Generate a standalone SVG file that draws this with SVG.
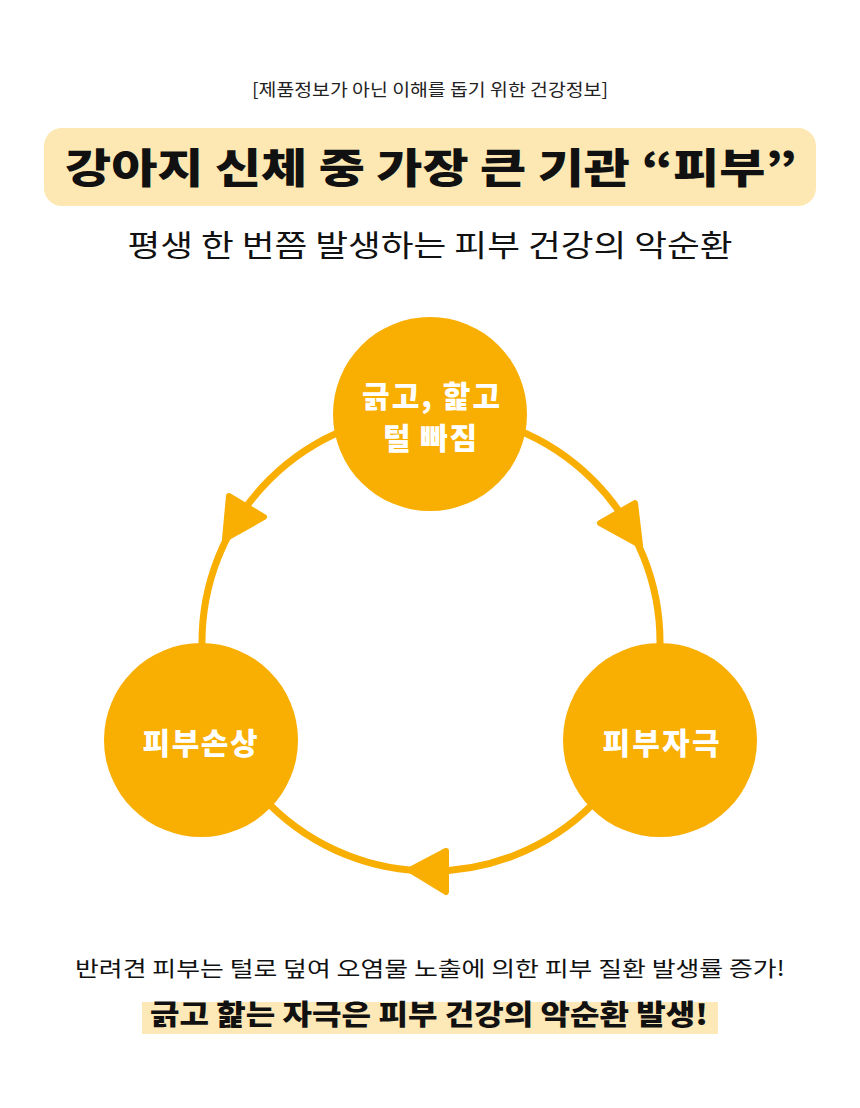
<svg xmlns="http://www.w3.org/2000/svg" width="860" height="1108" viewBox="0 0 860 1108">
<style>
.kr{font-family:"Noto Sans CJK KR","Noto Sans",sans-serif;}
.note{font-size:17px;fill:#222;}
.title{font-size:41px;font-weight:900;fill:#111;}
.sub{font-size:30px;fill:#111;}
.node{fill:#F9AE02;}
.ntext{font-size:30px;font-weight:900;fill:#fff;}
.ring{fill:none;stroke:#F9AE02;stroke-width:7;}
.arrow{fill:#F9AE02;stroke:#F9AE02;stroke-width:6;stroke-linejoin:round;}
.body{font-size:21px;fill:#111;}
.em{font-size:28px;font-weight:900;fill:#111;}
</style>
<rect width="860" height="1108" fill="#fff"/>
<g id="header">
<text class="kr note" x="430" y="96" text-anchor="middle" textLength="356" lengthAdjust="spacingAndGlyphs">[제품정보가 아닌 이해를 돕기 위한 건강정보]</text>
<rect x="44" y="128" width="772" height="78" rx="18" fill="#FDE8B3"/>
<text class="kr title" x="431" y="183" text-anchor="middle" textLength="732" lengthAdjust="spacingAndGlyphs">강아지 신체 중 가장 큰 기관 “피부”</text>
<text class="kr sub" x="430" y="256" text-anchor="middle" textLength="605" lengthAdjust="spacingAndGlyphs">평생 한 번쯤 발생하는 피부 건강의 악순환</text>
</g>
<g id="connectors">
<circle class="ring" cx="431" cy="642" r="229"/>
<polygon class="arrow" points="229,496 264,517 225,539"/>
<polygon class="arrow" points="635,503 600,523 640,545"/>
<polygon class="arrow" points="446,851 410,870 446,892"/>
</g>
<g id="node-top">
<circle class="node" cx="430" cy="414" r="97"/>
<text class="kr ntext" x="431" y="407" text-anchor="middle" textLength="138" lengthAdjust="spacing">긁고, 핥고</text>
<text class="kr ntext" x="430" y="449" text-anchor="middle" textLength="94" lengthAdjust="spacing">털 빠짐</text>
</g>
<g id="node-left">
<circle class="node" cx="201" cy="740" r="97"/>
<text class="kr ntext" x="200" y="754" text-anchor="middle" textLength="115" lengthAdjust="spacing">피부손상</text>
</g>
<g id="node-right">
<circle class="node" cx="660" cy="740" r="97"/>
<text class="kr ntext" x="661" y="754" text-anchor="middle" textLength="117" lengthAdjust="spacing">피부자극</text>
</g>
<g id="footer">
<text class="kr body" x="430" y="976" text-anchor="middle" textLength="710" lengthAdjust="spacingAndGlyphs">반려견 피부는 털로 덮여 오염물 노출에 의한 피부 질환 발생률 증가!</text>
<rect x="142" y="1002" width="576" height="32" fill="#FDE8B8"/>
<text class="kr em" x="429" y="1025" text-anchor="middle" textLength="558" lengthAdjust="spacingAndGlyphs">긁고 핥는 자극은 피부 건강의 악순환 발생!</text>
</g>
</svg>
